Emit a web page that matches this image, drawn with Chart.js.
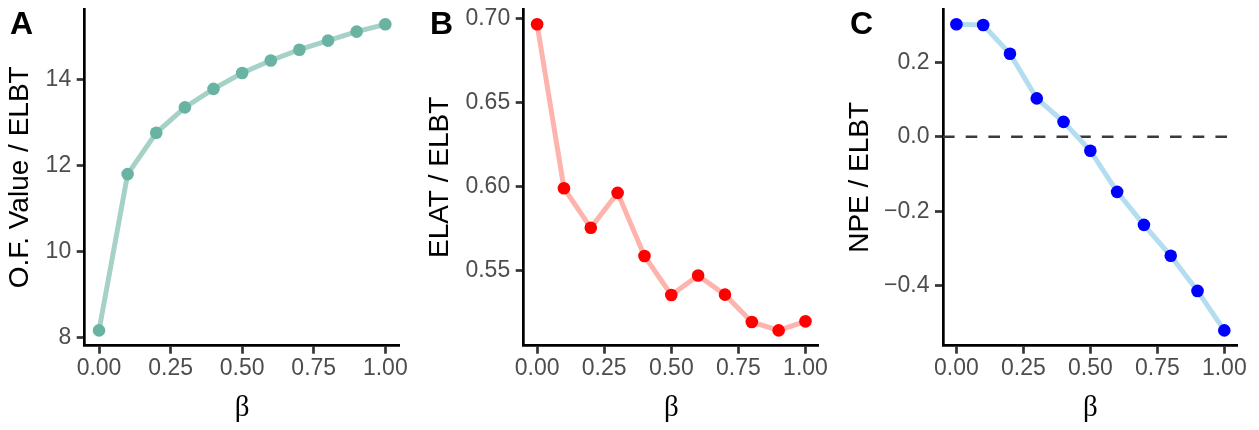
<!DOCTYPE html>
<html>
<head>
<meta charset="utf-8">
<script src="https://cdn.jsdelivr.net/npm/chart.js@4"></script>
<style>
  html, body { margin:0; padding:0; background:#fff; overflow:hidden; }
  #wrap { position:relative; width:1259px; height:430px; }
  canvas { position:absolute; top:0; }
</style>
</head>
<body>
<div id="wrap">
  <canvas id="panelA" width="420" height="430" style="left:0px"></canvas>
  <canvas id="panelB" width="420" height="430" style="left:420px"></canvas>
  <canvas id="panelC" width="420" height="430" style="left:840px"></canvas>
</div>
<script>
// data
const betaValues = [0, 0.1, 0.2, 0.3, 0.4, 0.5, 0.6, 0.7, 0.8, 0.9, 1.0];
const ofValue   = [8.17, 11.80, 12.76, 13.35, 13.78, 14.15, 14.44, 14.69, 14.90, 15.11, 15.28];
const elatValue = [0.6966, 0.599, 0.5754, 0.5962, 0.5586, 0.5354, 0.547, 0.5356, 0.5193, 0.5143, 0.5197];
const npeValue  = [0.302, 0.300, 0.223, 0.103, 0.040, -0.0375, -0.148, -0.2366, -0.3196, -0.414, -0.52];

const xTicks = [0, 0.25, 0.5, 0.75, 1];
const yTicksA = [8, 10, 12, 14];
const yTicksB = [0.55, 0.60, 0.65, 0.70];
const yTicksC = [-0.4, -0.2, 0.0, 0.2];
const refLineC = 0;

Chart.defaults.font.family = "'Liberation Sans', Arial, sans-serif";
Chart.defaults.animation = false;

const AXIS_W = 2.7;

// ggplot style 5% expansion
function expand(vals){
  const lo = Math.min(...vals), hi = Math.max(...vals);
  const pad = (hi - lo) * 0.05;
  return { min: lo - pad, max: hi + pad };
}

const panelLabel = {
  id: 'panelLabel',
  afterDraw(chart, args, opts){
    const ctx = chart.ctx;
    ctx.save();
    ctx.font = "bold 32px 'Liberation Sans', Arial, sans-serif";
    ctx.fillStyle = '#000';
    ctx.textBaseline = 'alphabetic';
    ctx.fillText(opts.text, 10, 34);
    ctx.restore();
  }
};

const hLine = {
  id: 'hLine',
  beforeDatasetsDraw(chart, args, opts){
    if (opts.value === undefined) return;
    const {ctx, chartArea, scales} = chart;
    const y = scales.y.getPixelForValue(opts.value);
    ctx.save();
    ctx.strokeStyle = '#3a3a3a';
    ctx.lineWidth = AXIS_W;
    ctx.setLineDash([11.6, 11.1]);
    ctx.beginPath();
    ctx.moveTo(chartArea.left, y);
    ctx.lineTo(chartArea.right, y);
    ctx.stroke();
    ctx.restore();
  }
};

function makePanel(id, opt){
  const yr = expand(opt.values);
  new Chart(document.getElementById(id), {
    type: 'line',
    data: {
      datasets: [{
        data: betaValues.map((b, i) => ({ x: b, y: opt.values[i] })),
        borderColor: opt.lineColor,
        borderWidth: 5,
        pointRadius: 6.3,
        pointHoverRadius: 6.3,
        pointBackgroundColor: opt.pointColor,
        pointBorderWidth: 0,
        tension: 0,
        clip: false
      }]
    },
    options: {
      responsive: false,
      devicePixelRatio: 1,
      layout: { padding: { top: 9, right: opt.rightPad, bottom: 0, left: 0 } },
      plugins: {
        legend: { display: false },
        tooltip: { enabled: false },
        panelLabel: { text: opt.label },
        hLine: { value: opt.hline }
      },
      scales: {
        x: {
          type: 'linear',
          min: -0.05, max: 1.05,
          afterBuildTicks: s => { s.ticks = xTicks.map(v => ({ value: v })); },
          afterFit: s => { s.height = 84.3; s.paddingLeft = 0; s.paddingRight = 0; },
          ticks: {
            color: '#4D4D4D',
            font: { size: 23 },
            padding: 1,
            maxRotation: 0,
            callback: v => v.toFixed(2)
          },
          grid: { drawOnChartArea: false, drawTicks: true, tickLength: 8, tickColor: '#333333', tickWidth: AXIS_W },
          border: { display: true, color: '#000', width: AXIS_W },
          title: {
            display: true,
            text: 'β',
            color: '#000',
            font: { size: 29, family: "'Liberation Serif', 'DejaVu Serif', serif", lineHeight: 1 },
            padding: { top: 0, bottom: 7 }
          }
        },
        y: {
          type: 'linear',
          min: yr.min, max: yr.max,
          afterBuildTicks: s => { s.ticks = opt.yTicks.map(v => ({ value: v })); },
          afterFit: s => { s.width = opt.yWidth; s.paddingTop = 0; s.paddingBottom = 0; },
          ticks: {
            color: '#4D4D4D',
            font: { size: 23 },
            padding: 5.5,
            callback: opt.fmt
          },
          grid: { drawOnChartArea: false, drawTicks: true, tickLength: 8, tickColor: '#333333', tickWidth: AXIS_W },
          border: { display: true, color: '#000', width: AXIS_W },
          title: {
            display: true,
            text: opt.yTitle,
            color: '#000',
            font: { size: 28, lineHeight: 1 },
            padding: { top: 6.5, bottom: 0 }
          }
        }
      }
    },
    plugins: [panelLabel, hLine]
  });
}

const minus = s => s.replace('-', '\u2212');

makePanel('panelA', {
  label: 'A', values: ofValue, yTicks: yTicksA, yTitle: 'O.F. Value / ELBT',
  lineColor: '#A5D1C7', pointColor: '#69B3A2',
  yWidth: 84.7, rightPad: 20.4,
  fmt: v => String(v)
});
makePanel('panelB', {
  label: 'B', values: elatValue, yTicks: yTicksB, yTitle: 'ELAT / ELBT',
  lineColor: '#FFB3AD', pointColor: '#FF0000',
  yWidth: 103.7, rightPad: 21.1,
  fmt: v => v.toFixed(2)
});
makePanel('panelC', {
  label: 'C', values: npeValue, yTicks: yTicksC, yTitle: 'NPE / ELBT',
  lineColor: '#B3DDF0', pointColor: '#0000FF',
  yWidth: 103, rightPad: 22.3, hline: refLineC,
  fmt: v => minus(v.toFixed(1))
});
</script>
</body>
</html>
